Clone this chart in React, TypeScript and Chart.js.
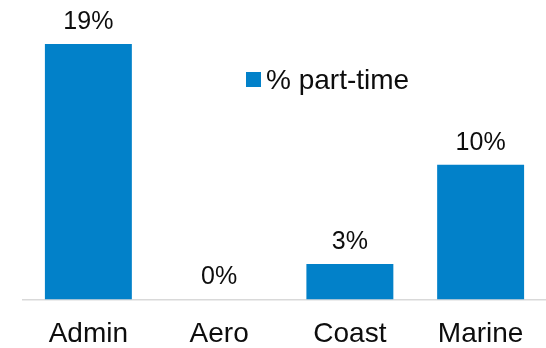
import React, { useEffect, useRef } from "react";
import { Chart, registerables } from "chart.js";

Chart.register(...registerables);

const categories = ["Admin", "Aero", "Coast", "Marine"];
const partTimePct = [19, 0, 2.64, 10.02];
const seriesLabel = "% part-time";
const barColor = "#0281C9";
const textColor = "#0d0d0d";
const fontFamily = "'Liberation Sans', Arial, sans-serif";

const valueLabels = {
  id: "valueLabels",
  afterDatasetsDraw(chart: any) {
    const ctx = chart.ctx;
    const meta = chart.getDatasetMeta(0);
    const data = chart.data.datasets[0].data as number[];
    ctx.save();
    ctx.font = `25px ${fontFamily}`;
    ctx.fillStyle = textColor;
    ctx.textAlign = "center";
    ctx.textBaseline = "alphabetic";
    meta.data.forEach((bar: any, i: number) => {
      ctx.fillText(Math.round(data[i]) + "%", bar.x, bar.y - 15);
    });
    ctx.restore();
  },
};

const innerLegend = {
  id: "innerLegend",
  afterDraw(chart: any) {
    const ctx = chart.ctx;
    const ds = chart.data.datasets[0];
    const x = 246;
    const y = 80;
    ctx.save();
    ctx.fillStyle = ds.backgroundColor;
    ctx.fillRect(x, y - 8, 15, 15);
    ctx.font = `28px ${fontFamily}`;
    ctx.fillStyle = textColor;
    ctx.textAlign = "left";
    ctx.textBaseline = "middle";
    ctx.fillText(ds.label, x + 20, y + 1);
    ctx.restore();
  },
};

export default function App() {
  const ref = useRef<HTMLCanvasElement>(null);
  useEffect(() => {
    document.body.style.margin = "0";
    const chart = new Chart(ref.current!, {
      type: "bar",
      data: {
        labels: categories,
        datasets: [
          {
            label: seriesLabel,
            data: partTimePct,
            backgroundColor: barColor,
            categoryPercentage: 1,
            barPercentage: 0.665,
          },
        ],
      },
      options: {
        animation: false,
        responsive: false,
        maintainAspectRatio: false,
        layout: { padding: { left: 23, right: 0, top: 44, bottom: -13 } },
        plugins: { legend: { display: false }, tooltip: { enabled: false } },
        scales: {
          x: {
            grid: { display: false },
            border: { display: true, color: "#d9d9d9", width: 1.5 },
            ticks: {
              color: textColor,
              font: { size: 28, family: fontFamily },
              padding: 10,
              maxRotation: 0,
            },
          },
          y: {
            display: false,
            min: 0,
            max: 19,
          },
        },
      },
      plugins: [valueLabels, innerLegend],
    });
    return () => chart.destroy();
  }, []);
  return (
    <div style={{ width: 546, height: 348 }}>
      <canvas ref={ref} width={546} height={348} />
    </div>
  );
}
